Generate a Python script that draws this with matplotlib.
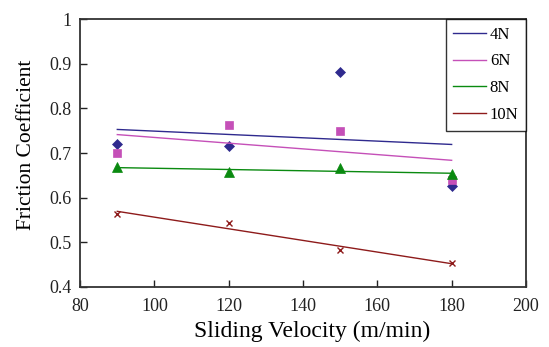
import numpy as np
import matplotlib
matplotlib.use('Agg')
import matplotlib.pyplot as plt

plt.rcParams['font.family'] = ['Liberation Serif', 'DejaVu Serif']

# sliding velocity (m/min) and friction coefficient per normal load
velocity = [90, 120, 150, 180]
mu_4n = [0.720, 0.715, 0.882, 0.627]
mu_6n = [0.699, 0.762, 0.750, 0.639]
mu_8n = [0.669, 0.657, 0.666, 0.652]
mu_10n = [0.563, 0.544, 0.483, 0.453]

series = [
    ('4N', mu_4n, '#2f2a8e', 'D', 5.5),
    ('6N', mu_6n, '#c550b8', 's', 5.8),
    ('8N', mu_8n, '#0a8a10', '^', 6.5),
    ('10N', mu_10n, '#8e1b1b', 'x', 5),
]

fig = plt.figure(figsize=(5.49, 3.47), dpi=100)
ax = fig.add_axes([0.146, 0.173, 0.812, 0.772])

x = np.array(velocity)
for label, vals, col, mk, ms in series:
    # linear trend line through each set
    k, b = np.polyfit(x, vals, 1)
    ax.plot(x, k * x + b, color=col, lw=1.0, label=label)
    ax.plot(x, vals, linestyle='none', marker=mk, color=col, ms=ms,
            markeredgewidth=1.0 if mk == 'x' else 0.5)

ax.set_xlim(80, 200)
ax.set_ylim(0.4, 1.0)
ax.set_xticks([80, 100, 120, 140, 160, 180, 200])
ax.set_yticks([0.4, 0.5, 0.6, 0.7, 0.8, 0.9, 1.0])
ax.set_yticklabels(['0.4', '0.5', '0.6', '0.7', '0.8', '0.9', '1'])
ax.tick_params(direction='in', length=5, width=1, labelsize=13, colors='#222222',
               top=False, right=False)
ax.tick_params(axis='x', pad=8)
ax.tick_params(axis='y', pad=6)
for sp in ax.spines.values():
    sp.set_linewidth(1.3)
    sp.set_color('#333333')

ax.set_xlabel('Sliding Velocity (m/min)', fontsize=17)
ax.xaxis.set_label_coords(0.52, -0.125)
ax.set_ylabel('Friction Coefficient', fontsize=15.5)
ax.yaxis.set_label_coords(-0.1, 0.53)

leg = ax.legend(loc='upper right', bbox_to_anchor=(1.0, 1.0), fontsize=12,
                frameon=True, fancybox=False, borderaxespad=0.0,
                handlelength=2.0, labelspacing=0.65, handletextpad=0.2,
                borderpad=0.45)
leg.get_frame().set_edgecolor('black')
leg.get_frame().set_linewidth(1.0)

fig.savefig('out.png', dpi=100)
